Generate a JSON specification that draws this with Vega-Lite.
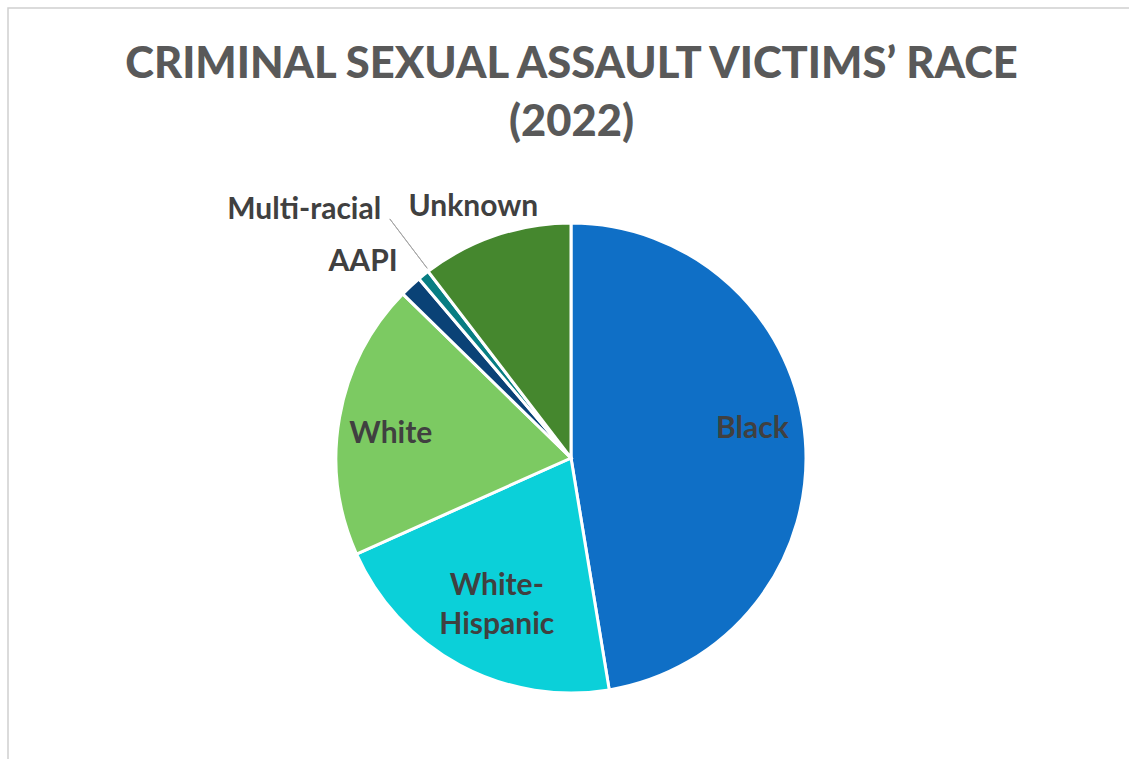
{
  "$schema": "https://vega.github.io/schema/vega-lite/v6.json",
  "autosize": "none",
  "padding": {"left": 8, "top": 8, "right": -6, "bottom": -6},
  "width": 1127,
  "height": 757,
  "background": "white",
  "view": {"stroke": "#d0d0d0", "strokeWidth": 1.5, "fill": "white"},
  "title": {
    "text": ["CRIMINAL SEXUAL ASSAULT VICTIMS’ RACE", "(2022)"],
    "font": "Lato",
    "fontWeight": 900,
    "fontSize": 43.5,
    "color": "#595959",
    "lineHeight": 58,
    "anchor": "middle",
    "offset": -137,
    "dx": 0
  },
  "params": [
    {"name": "cx", "expr": "width/2-0.5"},
    {"name": "cy", "expr": "height/2+71.5"}
  ],
  "data": {
    "values": [
      {"race": "Black", "label": "Black", "pct": 47.4, "rank": 1},
      {"race": "White-Hispanic", "label": "White-\nHispanic", "pct": 20.9, "rank": 2},
      {"race": "White", "label": "White", "pct": 19.0, "rank": 3},
      {"race": "AAPI", "label": "AAPI", "pct": 1.5, "rank": 4},
      {"race": "Multi-racial", "label": "Multi-racial", "pct": 0.8, "rank": 5},
      {"race": "Unknown", "label": "Unknown", "pct": 10.4, "rank": 6}
    ]
  },
  "encoding": {
    "theta": {"field": "pct", "type": "quantitative", "stack": true},
    "order": {"field": "rank", "type": "quantitative", "sort": "ascending"}
  },
  "layer": [
    {
      "mark": {"type": "arc", "outerRadius": 235, "stroke": "white", "strokeWidth": 3, "x": {"expr": "cx"}, "y": {"expr": "cy"}},
      "encoding": {
        "color": {
          "field": "race",
          "type": "nominal",
          "scale": {
            "domain": ["Black", "White-Hispanic", "White", "AAPI", "Multi-racial", "Unknown"],
            "range": ["#0F6FC6", "#0BD0D9", "#7CCA62", "#0A4276", "#077D82", "#45872E"]
          },
          "legend": null
        }
      }
    },
    {
      "mark": {"type": "arc", "innerRadius": 238, "outerRadius": 300, "padAngle": 1, "filled": false, "stroke": "#a6a6a6", "strokeWidth": 1, "thetaOffset": 0.03, "theta2Offset": 0.03, "x": {"expr": "cx"}, "y": {"expr": "cy"}},
      "encoding": {
        "strokeOpacity": {"condition": {"test": "datum.race === 'Multi-racial'", "value": 1}, "value": 0}
      }
    },
    {
      "mark": {"type": "text", "radius": 182, "dy": -14, "font": "Lato", "fontWeight": "bold", "fontSize": 30, "color": "#404040", "align": "center", "baseline": "middle", "x": {"expr": "cx"}, "y": {"expr": "cy"}},
      "encoding": {"text": {"condition": {"test": "datum.race === 'Black'", "field": "label"}, "value": ""}}
    },
    {
      "mark": {"type": "text", "radius": 183, "dy": 8, "font": "Lato", "fontWeight": "bold", "fontSize": 30, "color": "#404040", "align": "center", "baseline": "middle", "x": {"expr": "cx"}, "y": {"expr": "cy"}},
      "encoding": {"text": {"condition": {"test": "datum.race === 'White'", "field": "label"}, "value": ""}}
    },
    {
      "mark": {"type": "text", "radius": 161, "dx": 2, "dy": -14, "lineBreak": "\n", "lineHeight": 39, "font": "Lato", "fontWeight": "bold", "fontSize": 30, "color": "#404040", "align": "center", "baseline": "middle", "x": {"expr": "cx"}, "y": {"expr": "cy"}},
      "encoding": {"text": {"condition": {"test": "datum.race === 'White-Hispanic'", "field": "label"}, "value": ""}}
    },
    {
      "mark": {"type": "text", "radius": 260, "dx": 4, "dy": -6, "font": "Lato", "fontWeight": "bold", "fontSize": 30, "color": "#404040", "align": "right", "baseline": "middle", "x": {"expr": "cx"}, "y": {"expr": "cy"}},
      "encoding": {"text": {"condition": {"test": "datum.race === 'AAPI'", "field": "label"}, "value": ""}}
    },
    {
      "mark": {"type": "text", "radius": 312, "dx": 6, "dy": -5, "font": "Lato", "fontWeight": "bold", "fontSize": 30, "color": "#404040", "align": "right", "baseline": "middle", "x": {"expr": "cx"}, "y": {"expr": "cy"}},
      "encoding": {"text": {"condition": {"test": "datum.race === 'Multi-racial'", "field": "label"}, "value": ""}}
    },
    {
      "mark": {"type": "text", "radius": 270, "dx": -11, "dy": 5, "font": "Lato", "fontWeight": "bold", "fontSize": 30, "color": "#404040", "align": "center", "baseline": "middle", "x": {"expr": "cx"}, "y": {"expr": "cy"}},
      "encoding": {"text": {"condition": {"test": "datum.race === 'Unknown'", "field": "label"}, "value": ""}}
    }
  ]
}
